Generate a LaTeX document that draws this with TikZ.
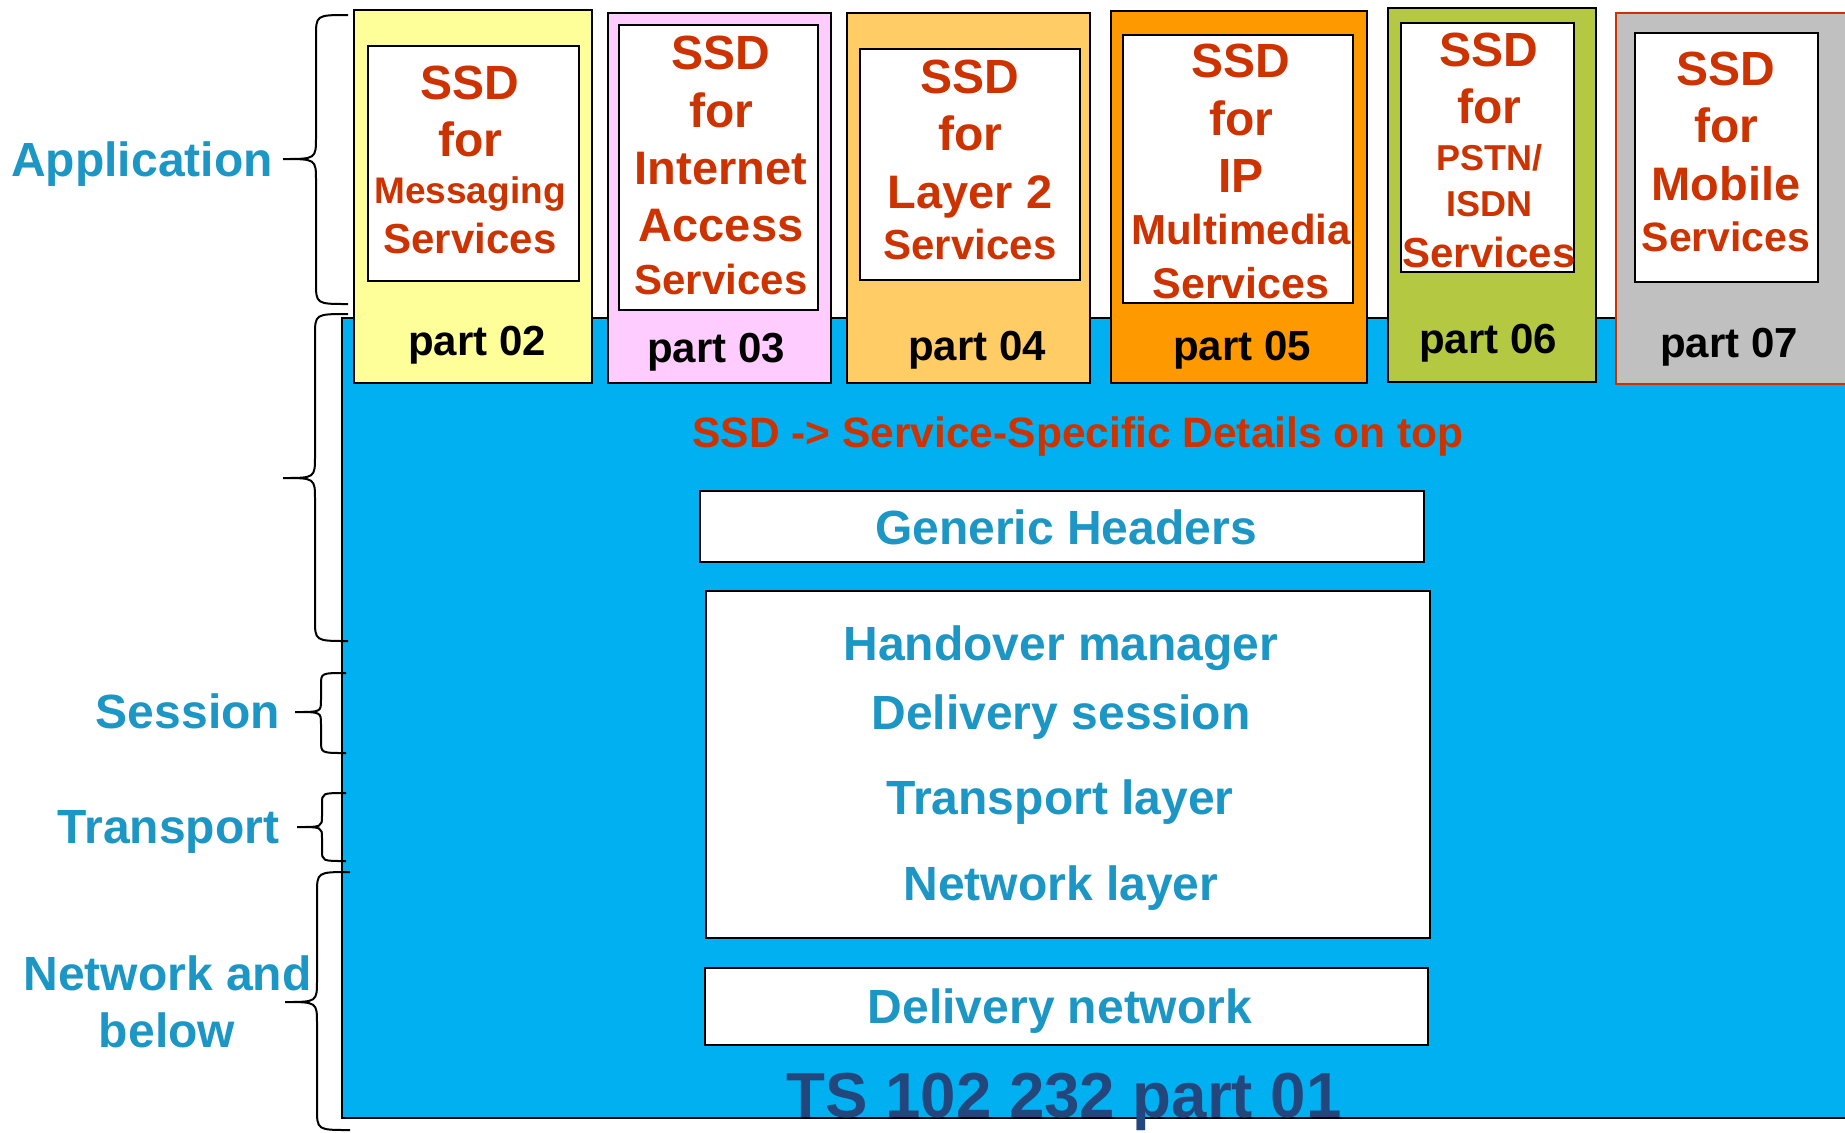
\documentclass[tikz,border=0pt]{standalone}
\usepackage{fontspec}
\setmainfont{Liberation Sans}
\definecolor{ssdred}{RGB}{204,51,0}
\definecolor{layertxt}{RGB}{28,150,196}
\definecolor{bgblue}{RGB}{0,176,240}
\definecolor{cyellow}{RGB}{255,255,153}
\definecolor{cpink}{RGB}{255,204,255}
\definecolor{clorange}{RGB}{255,204,102}
\definecolor{corange}{RGB}{255,153,0}
\definecolor{cgreen}{RGB}{180,200,65}
\definecolor{cgray}{RGB}{192,192,192}
\definecolor{tsblue}{RGB}{35,70,125}
\newcommand\fsz[1]{\fontsize{#1pt}{#1pt}\selectfont}
\newcommand\ssdl[5]{\node[ssdtxt, font=\bfseries\fsz{#4}] (#1) at (#2,#3) {#5};}
\newcommand\layerbrace[7]{%
  \draw[bracestyle] (#6,#1) .. controls (#4,#1) .. (#4,#1+#7) -- (#4,#3-#7)
    .. controls (#4,#3) .. (#5,#3) .. controls (#4,#3) .. (#4,#3+#7)
    -- (#4,#2-#7) .. controls (#4,#2) .. (#6,#2);}
\begin{document}
\begin{tikzpicture}[x=0.5pt,y=-0.5pt,
  boxline/.style={draw=black, line width=1pt},
  bracestyle/.style={draw=black, line width=1pt},
  ssdtxt/.style={anchor=base, text=ssdred, inner sep=0pt},
  parttxt/.style={anchor=base, text=black, inner sep=0pt, font=\bfseries\fsz{21}},
  laytxt/.style={anchor=base, text=layertxt, inner sep=0pt, font=\bfseries\fsz{24}},
  midtxt/.style={anchor=base, text=layertxt, inner sep=0pt, font=\bfseries\fsz{24}}]
\useasboundingbox (0,0) rectangle (1845,1132);
\fill[white] (0,0) rectangle (1845,1132);

% main blue area
\draw[boxline, fill=bgblue] (342,318) rectangle (1850,1118);

% top boxes
\draw[boxline, fill=cyellow] (354,10) rectangle (592,383);
\draw[boxline, fill=white] (368,46) rectangle (579,281);
\draw[boxline, fill=cpink] (608,13) rectangle (831,383);
\draw[boxline, fill=white] (619,25) rectangle (818,310);
\draw[boxline, fill=clorange] (847,13) rectangle (1090,383);
\draw[boxline, fill=white] (860,49) rectangle (1080,280);
\draw[boxline, fill=corange] (1111,11) rectangle (1367,383);
\draw[boxline, fill=white] (1123,35) rectangle (1353,303);
\draw[boxline, fill=cgreen] (1388,8) rectangle (1596,382);
\draw[boxline, fill=white] (1401,23) rectangle (1574,272);
\draw[line width=1pt, draw=ssdred, fill=cgray] (1616,13) rectangle (1850,384);
\draw[boxline, fill=white] (1635,33) rectangle (1818,282);

% SSD texts
\ssdl{y1}{470}{99}{24}{SSD}
\ssdl{y2}{470}{156}{24}{for}
\ssdl{y3}{470}{203}{18.5}{Messaging}
\ssdl{y4}{470}{253}{21}{Services}

\ssdl{p1}{721}{69}{24}{SSD}
\ssdl{p2}{721}{127}{24}{for}
\ssdl{p3}{721}{184}{23.5}{Internet}
\ssdl{p4}{721}{241}{23.5}{Access}
\ssdl{p5}{721}{294}{21}{Services}

\ssdl{l1}{970}{93}{24}{SSD}
\ssdl{l2}{970}{150}{24}{for}
\ssdl{l3}{970}{208}{23.5}{Layer 2}
\ssdl{l4}{970}{259}{21}{Services}

\ssdl{o1}{1241}{77}{24}{SSD}
\ssdl{o2}{1241}{135}{24}{for}
\ssdl{o3}{1241}{192}{24}{IP}
\ssdl{o4}{1241}{244}{21}{Multimedia}
\ssdl{o5}{1241}{298}{21.5}{Services}

\ssdl{g1}{1489}{66}{24}{SSD}
\ssdl{g2}{1489}{123}{24}{for}
\ssdl{g3}{1489}{170}{18}{PSTN/}
\ssdl{g4}{1489}{216}{18}{ISDN}
\ssdl{g5}{1489}{267}{21}{Services}

\ssdl{m1}{1726}{85}{24}{SSD}
\ssdl{m2}{1726}{142}{24}{for}
\ssdl{m3}{1726}{200}{23.5}{Mobile}
\ssdl{m4}{1726}{251}{20.5}{Services}

% part labels
\node[parttxt] (pt02) at (477,355) {part 02};
\node[parttxt] (pt03) at (716,362) {part 03};
\node[parttxt] (pt04) at (977,360) {part 04};
\node[parttxt] (pt05) at (1242,360) {part 05};
\node[parttxt] (pt06) at (1488,353) {part 06};
\node[parttxt] (pt07) at (1729,357) {part 07};

% SSD explanation
\node[ssdtxt, font=\bfseries\fsz{21.25}] (ssdexp) at (1078,447) {SSD -> Service-Specific Details on top};

% middle boxes
\draw[boxline, fill=white] (700,491) rectangle (1424,562);
\draw[boxline, fill=white] (706,591) rectangle (1430,938);
\draw[boxline, fill=white] (705,968) rectangle (1428,1045);

\node[midtxt] (gh) at (1066,544) {Generic Headers};
\node[midtxt] (hm) at (1061,660) {Handover manager};
\node[midtxt] (ds) at (1061,729) {Delivery session};
\node[midtxt] (tl) at (1060,814) {Transport layer};
\node[midtxt] (nl) at (1061,900) {Network layer};
\node[midtxt] (dn) at (1060,1023) {Delivery network};

\node[anchor=base, inner sep=0pt, text=tsblue, font=\bfseries\fsz{31.8}] (ts) at (1064,1117) {TS 102 232 part 01};

% layer labels
\node[laytxt] (app) at (142,176) {Application};
\node[laytxt] (ses) at (188,728) {Session};
\node[laytxt] (tra) at (168.5,843) {Transport};
\node[laytxt] (net1) at (167.5,990) {Network and};
\node[laytxt] (net2) at (167,1047) {below};

% braces
\layerbrace{15}{304}{159}{316}{283}{348}{22}
\layerbrace{314}{641}{478}{315}{283}{348}{22}
\layerbrace{673}{753}{712}{321}{295}{346}{12}
\layerbrace{793}{861}{827}{322}{297}{346}{11}
\layerbrace{872}{1130}{1002}{317}{285}{350}{22}
\end{tikzpicture}
\end{document}
